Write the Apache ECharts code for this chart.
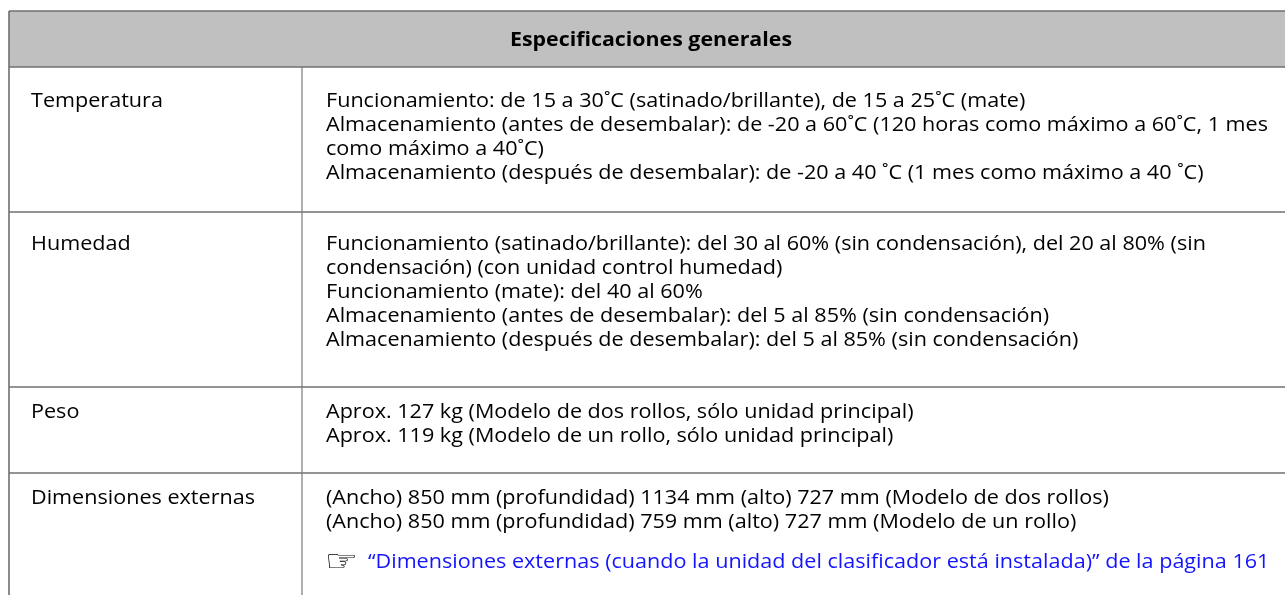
<!DOCTYPE html>
<html><head><meta charset="utf-8">
<script src="https://cdn.jsdelivr.net/npm/echarts@6/dist/echarts.min.js"></script>
<style>html,body{margin:0;padding:0;background:#fff}#c{width:1285px;height:595px}</style>
</head><body><div id="c"></div>
<script>
// ---- content ----
const tableTitle = 'Especificaciones generales';
const rowLabels = ['Temperatura', 'Humedad', 'Peso', 'Dimensiones externas'];
const temperaturaLines = [
  'Funcionamiento: de 15 a 30˚C (satinado/brillante), de 15 a 25˚C (mate)',
  'Almacenamiento (antes de desembalar): de -20 a 60˚C (120 horas como máximo a 60˚C, 1 mes',
  'como máximo a 40˚C)',
  'Almacenamiento (después de desembalar): de -20 a 40 ˚C (1 mes como máximo a 40 ˚C)'
];
const humedadLines = [
  'Funcionamiento (satinado/brillante): del 30 al 60% (sin condensación), del 20 al 80% (sin',
  'condensación) (con unidad control humedad)',
  'Funcionamiento (mate): del 40 al 60%',
  'Almacenamiento (antes de desembalar): del 5 al 85% (sin condensación)',
  'Almacenamiento (después de desembalar): del 5 al 85% (sin condensación)'
];
const pesoLines = [
  'Aprox. 127 kg (Modelo de dos rollos, sólo unidad principal)',
  'Aprox. 119 kg (Modelo de un rollo, sólo unidad principal)'
];
const dimensionesLines = [
  '(Ancho) 850 mm (profundidad) 1134 mm (alto) 727 mm (Modelo de dos rollos)',
  '(Ancho) 850 mm (profundidad) 759 mm (alto) 727 mm (Modelo de un rollo)'
];
const linkIcon = '☞';
const linkText = '“Dimensiones externas (cuando la unidad del clasificador está instalada)” de la página 161';
const rowDetails = [temperaturaLines, humedadLines, pesoLines, dimensionesLines];

// ---- layout ----
const FAMILY = 'Open Sans';
const tLeft = 9, tRight = 1300, col2 = 302, tTop = 11, headerH = 56;
const rowTops = [67, 212, 387, 473, 640];
const firstLineOffset = [34, 32, 25, 25];
const lineH = 24;
const textX1 = 31, textX2 = 326;
const lineColor = '#6f6f6f';
const fs = 20, tfs = 20;

function measure(txt, font) {
  const c = document.createElement('canvas').getContext('2d');
  c.font = font; return c.measureText(txt).width;
}
const sx = 942 / measure(temperaturaLines[1], 'normal ' + fs + 'px "' + FAMILY + '"');
const tsx = 282 / measure(tableTitle, 'bold ' + tfs + 'px "' + FAMILY + '"');

function txt(x, y, s) {
  return {type: 'text', x: x, y: y, scaleX: sx,
    style: {text: s, fontSize: fs, fontFamily: FAMILY, fontWeight: 'normal', fill: '#000', verticalAlign: 'middle'}};
}

const els = [];
els.push({type: 'rect', shape: {x: tLeft, y: tTop, width: tRight - tLeft, height: headerH},
  style: {fill: '#c0c0c0'}, silent: true});
els.push({type: 'text', x: 651, y: tTop + headerH / 2 + 1, scaleX: tsx,
  style: {text: tableTitle, fontSize: tfs, fontFamily: FAMILY, fontWeight: 'bold', fill: '#000', align: 'center', verticalAlign: 'middle'}});
[tTop, tTop + headerH].concat(rowTops.slice(1, 4)).forEach(y => {
  els.push({type: 'line', shape: {x1: tLeft, y1: y, x2: tRight, y2: y},
    style: {stroke: lineColor, lineWidth: 1.6}, silent: true});
});
els.push({type: 'line', shape: {x1: tLeft, y1: tTop, x2: tLeft, y2: 640}, style: {stroke: lineColor, lineWidth: 1.6}});
els.push({type: 'line', shape: {x1: col2, y1: tTop + headerH, x2: col2, y2: 640}, style: {stroke: '#7a7a7a', lineWidth: 1.2}});

rowLabels.forEach((lab, i) => {
  const y0 = rowTops[i] + firstLineOffset[i];
  els.push(txt(textX1, y0, lab));
  rowDetails[i].forEach((ln, j) => els.push(txt(textX2, y0 + j * lineH, ln)));
  if (i === 3) {
    const yl = y0 + rowDetails[i].length * lineH + 16;
    els.push({type: 'text', x: textX2 - 1, y: yl + 1, scaleX: 1.25,
      style: {text: linkIcon, fontSize: 30, fontFamily: 'DejaVu Sans', fill: '#000', verticalAlign: 'middle'}});
    const t = txt(368, yl, linkText); t.style.fill = '#1414ff';
    els.push(t);
  }
});

const chart = echarts.init(document.getElementById('c'), null, {renderer: 'canvas'});
chart.setOption({animation: false, backgroundColor: '#fff', graphic: {elements: els}});
</script></body></html>
